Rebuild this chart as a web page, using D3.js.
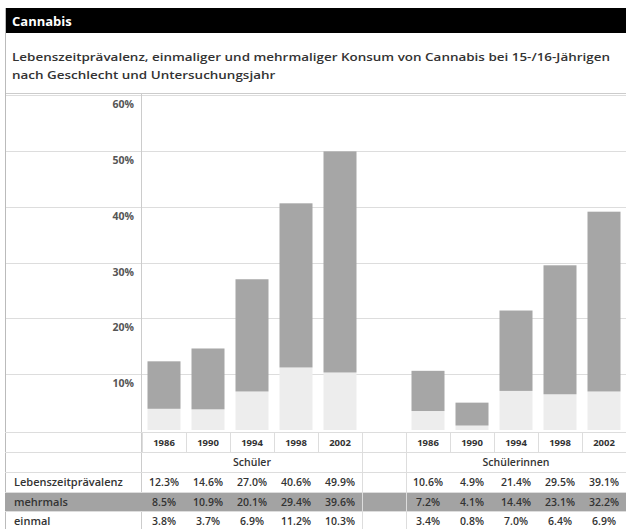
<!DOCTYPE html>
<html><head><meta charset="utf-8">
<script src="https://cdn.jsdelivr.net/npm/d3@7"></script>
<style>html,body{margin:0;padding:0;background:#fff;}svg{display:block;}</style>
</head><body>
<svg id="c" width="626" height="529"></svg>
<script>
const title = "Cannabis";
const subtitle = ["Lebenszeitprävalenz, einmaliger und mehrmaliger Konsum von Cannabis bei 15-/16-Jährigen", "nach Geschlecht und Untersuchungsjahr"];
const years = ["1986","1990","1994","1998","2002"];
const groups = ["Schüler","Schülerinnen"];
const rowLabels = ["Lebenszeitprävalenz","mehrmals","einmal"];
const ticks = [10,20,30,40,50,60];
const lifetimeM = [12.3,14.6,27.0,40.6,49.9];
const mehrmalsM = [8.5,10.9,20.1,29.4,39.6];
const einmalM  = [3.8,3.7,6.9,11.2,10.3];
const lifetimeF = [10.6,4.9,21.4,29.5,39.1];
const mehrmalsF = [7.2,4.1,14.4,23.1,32.2];
const einmalF  = [3.4,0.8,7.0,6.4,6.9];

const font = "'Open Sans', 'DejaVu Sans', sans-serif";
const svg = d3.select("#c");
const W = 626;

const cols = years.map(y=>"M"+y).concat(["gap"], years.map(y=>"F"+y));
const x = d3.scaleBand().domain(cols).range([142, 626]).paddingInner(0).paddingOuter(0);
const y = d3.scaleLinear().domain([0,60]).range([430,95]);

// header
svg.append("rect").attr("x",5).attr("y",8).attr("width",W-5).attr("height",25).attr("fill","#000");
svg.append("text").attr("x",12).attr("y",26).attr("fill","#fff").attr("font-family",font)
  .attr("font-weight","bold").attr("font-size",13).text(title);
const subT = subtitle.map((s,i)=> svg.append("text").attr("x",12).attr("y",61+i*18).attr("fill","#333").attr("font-family",font)
   .attr("font-size",11.5).attr("font-weight",600).text(s));
const ratio = 598 / subT[0].node().getComputedTextLength();
subT.forEach(t=>{ t.attr("textLength", t.node().getComputedTextLength()*ratio).attr("lengthAdjust","spacingAndGlyphs"); });
svg.append("line").attr("x1",5).attr("x2",W).attr("y1",93.5).attr("y2",93.5).attr("stroke","#ccc");

// gridlines
svg.append("g").selectAll("line").data(ticks).join("line")
  .attr("x1",5).attr("x2",W).attr("y1",d=>Math.round(y(d))+0.5).attr("y2",d=>Math.round(y(d))+0.5)
  .attr("stroke","#ddd");
svg.append("g").selectAll("text").data(ticks).join("text")
  .attr("x",134).attr("y",d=>y(d)+13).attr("text-anchor","end").attr("font-family",font)
  .attr("font-size",10.5).attr("font-weight","bold").attr("fill","#555").text(d=>d+"%");

// bars
const barW = 33;
function drawGroup(prefix, ein, mehr){
  const g = svg.append("g");
  years.forEach((yr,i)=>{
    const cx = x(prefix+yr) + x.bandwidth()/2;
    g.append("rect").attr("x",cx-barW/2).attr("width",barW)
      .attr("y",y(ein[i])).attr("height",y(0)-y(ein[i])).attr("fill","#ededed");
    g.append("rect").attr("x",cx-barW/2).attr("width",barW)
      .attr("y",y(ein[i]+mehr[i])).attr("height",y(ein[i])-y(ein[i]+mehr[i])).attr("fill","#a6a6a6");
  });
}
drawGroup("M", einmalM, mehrmalsM);
drawGroup("F", einmalF, mehrmalsF);

svg.append("line").attr("x1",141.5).attr("x2",141.5).attr("y1",93).attr("y2",529).attr("stroke","#ccc");
svg.append("line").attr("x1",5.5).attr("x2",5.5).attr("y1",8).attr("y2",529).attr("stroke","#bbb");

// table
const rowY = [432,452,472,492,511,529];
svg.append("rect").attr("x",5).attr("y",rowY[3]).attr("width",W-5).attr("height",rowY[4]-rowY[3]).attr("fill","#a3a3a3");
rowY.slice(0,5).forEach(v=>{
  svg.append("line").attr("x1",5).attr("x2",W).attr("y1",v+0.5).attr("y2",v+0.5).attr("stroke","#ddd");
});
cols.forEach(c=>{
  svg.append("line").attr("x1",x(c)+0.5).attr("x2",x(c)+0.5).attr("y1",rowY[0]).attr("y2",rowY[1]).attr("stroke","#ddd");
});
["gap","F1986"].forEach(c=>{
  svg.append("line").attr("x1",x(c)+0.5).attr("x2",x(c)+0.5).attr("y1",rowY[1]).attr("y2",529).attr("stroke","#ddd");
});
const tf = (s)=>s.toFixed(1)+"%";
function drawCol(prefix){
  years.forEach((yr,i)=>{
    const cx = x(prefix+yr) + x.bandwidth()/2;
    svg.append("text").attr("x",cx).attr("y",rowY[0]+14).attr("text-anchor","middle").attr("font-family",font)
      .attr("font-size",9.5).attr("font-weight","bold").attr("fill","#333").text(yr);
  });
}
drawCol("M"); drawCol("F");
const grpCenter = [ (x("M1986")+x("M2002")+x.bandwidth())/2, (x("F1986")+x("F2002")+x.bandwidth())/2 ];
groups.forEach((g,i)=>{
  svg.append("text").attr("x",grpCenter[i]).attr("y",rowY[1]+14).attr("text-anchor","middle").attr("font-family",font)
    .attr("font-size",10.5).attr("font-weight",600).attr("fill","#333").text(g);
});
rowLabels.forEach((r,i)=>{
  svg.append("text").attr("x",14).attr("y",rowY[2+i]+14).attr("font-family",font)
    .attr("font-size",11).attr("font-weight",600).attr("fill","#333").text(r);
});
const tableRows = [[lifetimeM,lifetimeF],[mehrmalsM,mehrmalsF],[einmalM,einmalF]];
tableRows.forEach((pair,r)=>{
  [["M",pair[0]],["F",pair[1]]].forEach(([p,arr])=>{
    arr.forEach((v,i)=>{
      const cx = x(p+years[i]) + x.bandwidth()/2;
      svg.append("text").attr("x",cx).attr("y",rowY[2+r]+14).attr("text-anchor","middle").attr("font-family",font)
        .attr("font-size",10.5).attr("font-weight",600).attr("fill","#333").text(tf(v));
    });
  });
});
</script>
</body></html>
